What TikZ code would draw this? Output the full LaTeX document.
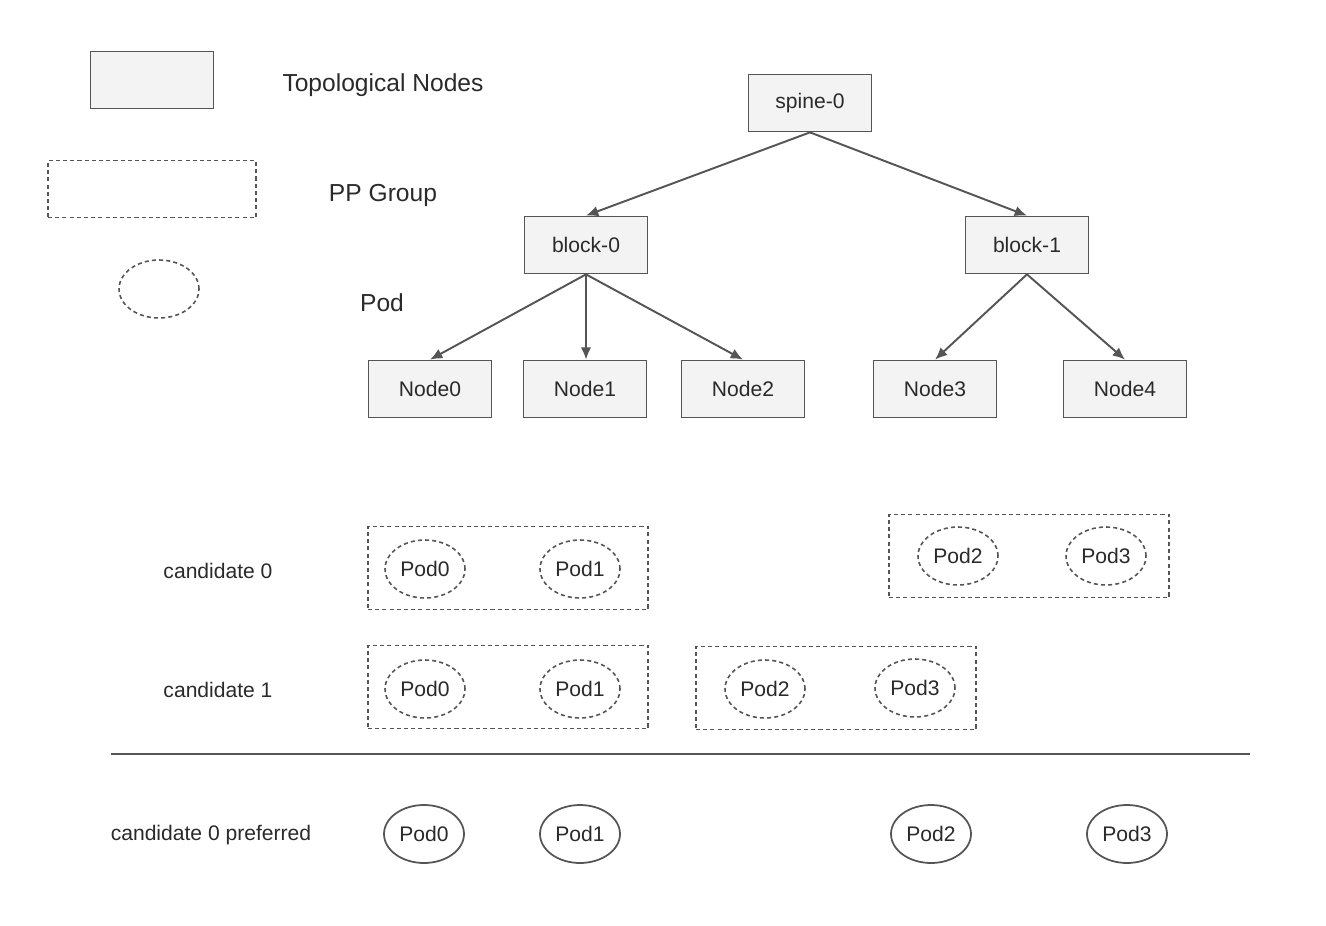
\documentclass[tikz,border=0pt]{standalone}
\usepackage{fontspec}
\setmainfont{Liberation Sans}
\usetikzlibrary{shapes.geometric,arrows.meta}
\definecolor{edgegray}{HTML}{555555}
\definecolor{topofill}{HTML}{F2F3F2}
\definecolor{txt}{HTML}{2A2A2A}

\begin{document}
\begin{tikzpicture}
  [x=0.02cm,y=-0.02cm,
   every node/.style={text=txt,font=\fontsize{12}{14}\selectfont},
   topo/.style={draw=edgegray,fill=topofill,line width=1pt,minimum width=2.46cm,minimum height=1.14cm},
   ppgroup/.style={draw=edgegray,dash pattern=on 2.3pt off 1.8pt,line width=0.9pt,minimum width=5.6cm,minimum height=1.66cm},
   pod/.style={ellipse,draw=edgegray,dash pattern=on 2.3pt off 1.8pt,line width=0.9pt,minimum width=1.6cm,minimum height=1.16cm,inner sep=0pt},
   podsel/.style={ellipse,draw=edgegray,line width=1pt,minimum width=1.6cm,minimum height=1.16cm,inner sep=0pt},
   legend/.style={font=\fontsize{14}{16}\selectfont}]
  \useasboundingbox (0,0) rectangle (1326,926);

  % legend
  \node[topo] (legtopo) at (152,80) {};
  \node[legend] (legtopotxt) at (383,85) {Topological Nodes};
  \node[ppgroup,minimum width=4.16cm,minimum height=1.14cm] (legpp) at (152,189) {};
  \node[legend] (legpptxt) at (383,195) {PP Group};
  \node[pod] (legpod) at (159,289) {};
  \node[legend] (legpodtxt) at (382,303) {Pod};

  % topology
  \node[topo] (spine0) at (810,103) {spine-0};
  \node[topo] (block0) at (586,245) {block-0};
  \node[topo] (block1) at (1027,245) {block-1};
  \node[topo] (node0) at (430,389) {Node0};
  \node[topo] (node1) at (585,389) {Node1};
  \node[topo] (node2) at (743,389) {Node2};
  \node[topo] (node3) at (935,389) {Node3};
  \node[topo] (node4) at (1125,389) {Node4};

  \foreach \from/\to in {spine0/block0,spine0/block1,block0/node0,block0/node2,block1/node3,block1/node4}
    \draw[draw=edgegray,line width=1.1pt,-{Latex[length=7pt,width=6pt]}] (\from.south) -- (\to.north);
  \draw[draw=edgegray,line width=1.1pt,-{Latex[length=7pt,width=6pt]}] (block0.south) -- (block0.south |- node1.north);

  % candidate 0
  \node (cand0) at (218,571) {candidate 0};
  \node[ppgroup] (c0g0) at (508,568) {};
  \node[pod] (c0p0) at (425,569) {Pod0};
  \node[pod] (c0p1) at (580,569) {Pod1};
  \node[ppgroup] (c0g1) at (1029,556) {};
  \node[pod] (c0p2) at (958,556) {Pod2};
  \node[pod] (c0p3) at (1106,556) {Pod3};

  % candidate 1
  \node (cand1) at (218,690) {candidate 1};
  \node[ppgroup] (c1g0) at (508,687) {};
  \node[pod] (c1p0) at (425,689) {Pod0};
  \node[pod] (c1p1) at (580,689) {Pod1};
  \node[ppgroup] (c1g1) at (836,688) {};
  \node[pod] (c1p2) at (765,689) {Pod2};
  \node[pod] (c1p3) at (915,688) {Pod3};

  \coordinate (sepl) at (111,754);
  \coordinate (sepr) at (1250,754);
  \draw[draw=edgegray,line width=1pt] (sepl) -- (sepr);

  % preferred
  \node (pref) at (211,835) {candidate 0 preferred};
  \node[podsel] (pp0) at (424,834) {Pod0};
  \node[podsel] (pp1) at (580,834) {Pod1};
  \node[podsel] (pp2) at (931,834) {Pod2};
  \node[podsel] (pp3) at (1127,834) {Pod3};

\end{tikzpicture}
\end{document}
